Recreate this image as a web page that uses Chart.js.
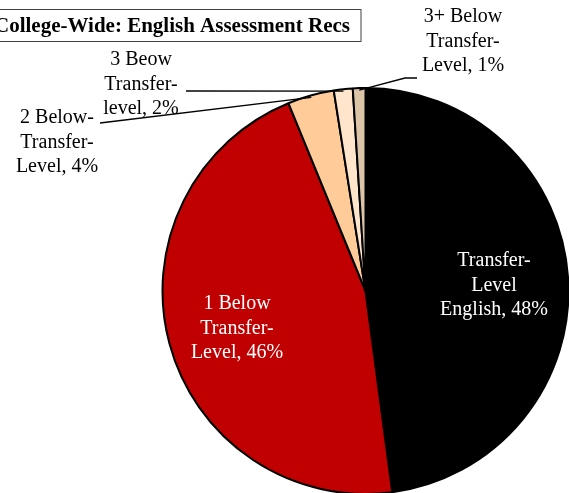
<!DOCTYPE html>
<html>
<head>
<meta charset="utf-8">
<script src="https://cdn.jsdelivr.net/npm/chart.js@4"></script>
<style>
  html, body { margin: 0; padding: 0; background: #fff; overflow: hidden; }
  #wrap { position: relative; width: 569px; height: 493px; overflow: hidden; }
</style>
</head>
<body>
<div id="wrap"><canvas id="pie" width="570" height="495"></canvas></div>
<script>
// data
const categories = ['Transfer-Level English', '1 Below Transfer-Level', '2 Below-Transfer-Level', '3 Beow Transfer-level', '3+ Below Transfer-Level'];
const shares = [47.9, 45.9, 3.7, 1.5, 1.0];
const labelLines = [
    ['Transfer-', 'Level', 'English, 48%'],
    ['1 Below', 'Transfer-', 'Level, 46%'],
    ['2 Below-', 'Transfer-', 'Level, 4%'],
    ['3 Beow', 'Transfer-', 'level, 2%'],
    ['3+ Below', 'Transfer-', 'Level, 1%']
];
const sliceColors = ['#000000', '#C00000', '#FFCC99', '#FFE5CC', '#DCC4A9'];
const chartTitle = 'College-Wide: English Assessment Recs';

const FONT = '"Liberation Serif", "Times New Roman", serif';

// label placement: centre x, first line y, text colour, leader start points (or null)
const labelLayout = [
    { x: 494, y: 261, color: '#fff', leader: null },
    { x: 237, y: 304, color: '#fff', leader: null },
    { x: 57, y: 118, color: '#000', leader: [[100, 123]] },
    { x: 141, y: 60, color: '#000', leader: [[186, 91]] },
    { x: 463, y: 17, color: '#000', leader: [[417, 78], [405, 78]] }
];

const labelPlugin = {
    id: 'sliceLabels',
    afterDatasetsDraw(chart) {
        const ctx = chart.ctx;
        const arcs = chart.getDatasetMeta(0).data;
        ctx.save();
        // leader lines
        ctx.strokeStyle = '#000';
        ctx.lineWidth = 1.3;
        labelLayout.forEach((lay, i) => {
            if (!lay.leader) return;
            const arc = arcs[i];
            const mid = (arc.startAngle + arc.endAngle) / 2;
            const r = arc.outerRadius - 2;
            ctx.beginPath();
            ctx.moveTo(lay.leader[0][0], lay.leader[0][1]);
            for (let k = 1; k < lay.leader.length; k++) ctx.lineTo(lay.leader[k][0], lay.leader[k][1]);
            ctx.lineTo(arc.x + r * Math.cos(mid), arc.y + r * Math.sin(mid));
            ctx.stroke();
        });
        // text
        ctx.font = '20px ' + FONT;
        ctx.textAlign = 'center';
        ctx.textBaseline = 'middle';
        labelLayout.forEach((lay, i) => {
            ctx.fillStyle = lay.color;
            labelLines[i].forEach((line, j) => {
                ctx.fillText(line, lay.x, lay.y + j * 24.5);
            });
        });
        ctx.restore();
    }
};

const titlePlugin = {
    id: 'boxTitle',
    afterDraw(chart) {
        const ctx = chart.ctx;
        ctx.save();
        ctx.fillStyle = '#fff';
        ctx.fillRect(-5, 9.5, 366, 32);
        ctx.strokeStyle = '#404040';
        ctx.lineWidth = 1;
        ctx.strokeRect(-5, 9.5, 366, 32);
        ctx.font = 'bold 21px ' + FONT;
        ctx.fillStyle = '#000';
        ctx.textAlign = 'right';
        ctx.textBaseline = 'alphabetic';
        ctx.fillText(chartTitle, 350, 32);
        ctx.restore();
    }
};

new Chart(document.getElementById('pie').getContext('2d'), {
    type: 'pie',
    data: {
        labels: categories,
        datasets: [{
            data: shares,
            backgroundColor: sliceColors,
            borderColor: '#000',
            borderWidth: 2
        }]
    },
    options: {
        responsive: false,
        animation: false,
        layout: { padding: { left: 161, right: 0, top: 87, bottom: 0 } },
        plugins: {
            legend: { display: false },
            title: { display: false },
            tooltip: { enabled: false }
        }
    },
    plugins: [labelPlugin, titlePlugin]
});
</script>
</body>
</html>
